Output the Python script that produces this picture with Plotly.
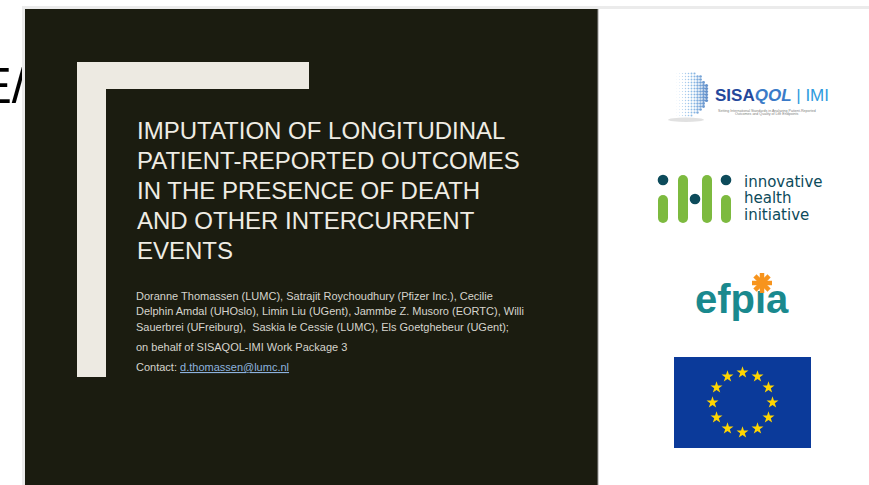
import numpy as np
import plotly.graph_objects as go

W, H = 869, 485

# ---- slide text content ----
title_lines = [
    "IMPUTATION OF LONGITUDINAL",
    "PATIENT-REPORTED OUTCOMES",
    "IN THE PRESENCE OF DEATH",
    "AND OTHER INTERCURRENT",
    "EVENTS",
]
title_y = [130, 160, 190, 220, 250]

author_lines = [
    "Doranne Thomassen (LUMC), Satrajit Roychoudhury (Pfizer Inc.), Cecilie",
    "Delphin Amdal (UHOslo), Limin Liu (UGent), Jammbe Z. Musoro (EORTC), Willi",
    "Sauerbrei (UFreiburg),  Saskia le Cessie (LUMC), Els Goetghebeur (UGent);",
    "on behalf of SISAQOL-IMI Work Package 3",
]
author_y = [295.5, 311, 326.5, 347]
contact_label = "Contact: "
contact_mail = "d.thomassen@lumc.nl"
contact_y = 367

ihi_words = ["innovative", "health", "initiative"]
ihi_y = [181.5, 198, 214.5]

sisaqol_tagline = [
    "Setting International Standards in Analyzing Patient-Reported",
    "Outcomes and Quality of Life Endpoints",
]

# ---- colours ----
DARK = "#1B1C10"
BEIGE = "#EDEAE2"
TITLE_C = "#EFECE4"
AUTHOR_C = "#D6D4CD"
LINK_C = "#8DB2DE"
TEAL = "#0D4B5B"
GREEN = "#7DBA3F"
EFPIA_C = "#1A898E"
ORANGE = "#F7941D"
EU_BLUE = "#0B3A9A"
EU_YELLOW = "#FFD500"

fig = go.Figure()

# partially hidden large text behind the slide (left edge)
fig.add_trace(go.Scatter(
    x=[2], y=[90], mode="text", text=["E/"], textposition="middle center",
    textfont=dict(family="Liberation Sans, Arial", size=50, color="#000000"),
    hoverinfo="skip", showlegend=False, cliponaxis=False))

# efpia wordmark (trace so the asterisk shape can sit above the i-dot)
fig.add_trace(go.Scatter(
    x=[695], y=[303], mode="text", text=["<b>efpia</b>"], textposition="middle right",
    textfont=dict(family="Liberation Sans, Arial", size=40, color=EFPIA_C),
    hoverinfo="skip", showlegend=False, cliponaxis=False))

# SISAQOL dotted globe (decorative halftone)
cx, cy, r = 685, 94, 23.5
gx, gy = np.meshgrid(np.arange(cx - r, cx + r + 0.1, 3.0), np.arange(cy - r, cy + r + 0.1, 3.0))
gx, gy = gx.ravel(), gy.ravel()
inside = (gx - cx) ** 2 + (gy - cy) ** 2 <= r ** 2
gx, gy = gx[inside], gy[inside]
t = (gx - (cx - r)) / (2 * r)
keep = t > 0.3
gx, gy, t = gx[keep], gy[keep], t[keep]
sizes = 0.6 + 2.8 * ((t - 0.3) / 0.7) ** 1.1
fig.add_trace(go.Scatter(
    x=gx, y=gy, mode="markers",
    marker=dict(size=sizes, color=t, cmin=0.3, cmax=1,
                colorscale=[[0, "#C4DBF1"], [0.5, "#5E9FDC"], [1, "#1A5AAE"]],
                line_width=0),
    hoverinfo="skip", showlegend=False))

# EU flag stars
ang = np.deg2rad(np.arange(12) * 30)
star_cx, star_cy, star_r = 742.5, 402.5, 30
fig.add_trace(go.Scatter(
    x=star_cx + star_r * np.sin(ang), y=star_cy - star_r * np.cos(ang), mode="markers",
    marker=dict(symbol="star", size=9, color=EU_YELLOW, line_width=0),
    hoverinfo="skip", showlegend=False))

shapes = []


def rect(x0, y0, x1, y1, color, layer="above"):
    shapes.append(dict(type="rect", xref="x", yref="y", x0=x0, y0=y0, x1=x1, y1=y1,
                       fillcolor=color, line_width=0, layer=layer))


def circ(x, y, rr, color, layer="above"):
    shapes.append(dict(type="circle", xref="x", yref="y", x0=x - rr, y0=y - rr, x1=x + rr, y1=y + rr,
                       fillcolor=color, line_width=0, layer=layer))


# slide window frame
rect(22, 6, W + 2, 9, "#EBEBEB")
rect(22, 6, 25, H + 2, "#EBEBEB")
rect(25, 9, 597, H + 2, DARK)
rect(597, 9, 598.3, H + 2, "#5A5A55")

# beige L frame
rect(77, 62, 309, 89, BEIGE)
rect(77, 62, 106, 377, BEIGE)

# SISAQOL shadow
shapes.append(dict(type="circle", xref="x", yref="y", x0=668, y0=117.5, x1=704, y1=122,
                   fillcolor="#DADADA", line_width=0, layer="below", opacity=0.8))

# IHI logo bars and dots
for (x0, y0) in [(658, 195), (678, 175), (702, 175), (721, 195)]:
    rect(x0, y0 + 5, x0 + 10, 218, GREEN)
    circ(x0 + 5, y0 + 5, 5, GREEN)
    circ(x0 + 5, 218, 5, GREEN)
for (x, y) in [(663, 180), (695, 199), (726, 180)]:
    circ(x, y, 5.3, TEAL)

# efpia asterisk
ax, ay, al = 762, 283, 10
for a in [0, 45, 90, 135]:
    th = np.deg2rad(a)
    shapes.append(dict(type="line", xref="x", yref="y",
                       x0=ax - al * np.cos(th), y0=ay - al * np.sin(th),
                       x1=ax + al * np.cos(th), y1=ay + al * np.sin(th),
                       line=dict(color=ORANGE, width=4.5), layer="above"))

# EU flag
rect(674, 357, 811, 448, EU_BLUE, layer="below")

annotations = []


def txt(x, y, s, size, color, family="Liberation Sans, Arial", anchor="left"):
    annotations.append(dict(x=x, y=y, xref="x", yref="y", text=s, showarrow=False,
                            xanchor=anchor, yanchor="middle",
                            font=dict(family=family, size=size, color=color)))


for s, y in zip(title_lines, title_y):
    txt(135, y, s, 24, TITLE_C)
for s, y in zip(author_lines, author_y):
    txt(134, y, s, 11, AUTHOR_C)
txt(134, contact_y,
    contact_label + f'<span style="color:{LINK_C};text-decoration:underline">{contact_mail}</span>',
    11, AUTHOR_C)

# SISAQOL | IMI wordmark
txt(713, 95,
    '<span style="color:#24479B"><b>SISA</b></span><span style="color:#3A7BC8"><b><i>QOL</i></b></span>'
    '<span style="color:#2E9BDE"> | IMI</span>', 17, "#24479B")
for s, y in zip(sisaqol_tagline, [110.8, 114.2]):
    txt(767, y, s, 3.6, "#808080", anchor="center")

# IHI words
for s, y in zip(ihi_words, ihi_y):
    txt(742, y, s, 15, TEAL, family="DejaVu Sans")

fig.update_layout(
    width=W, height=H, margin=dict(l=0, r=0, t=0, b=0),
    paper_bgcolor="#FFFFFF", plot_bgcolor="#FFFFFF",
    xaxis=dict(range=[0, W], visible=False, fixedrange=True),
    yaxis=dict(range=[H, 0], visible=False, fixedrange=True),
    shapes=shapes, annotations=annotations, showlegend=False,
)

fig.write_html("out.html", config={"displayModeBar": False},
               post_script="document.body.style.margin='0';")
